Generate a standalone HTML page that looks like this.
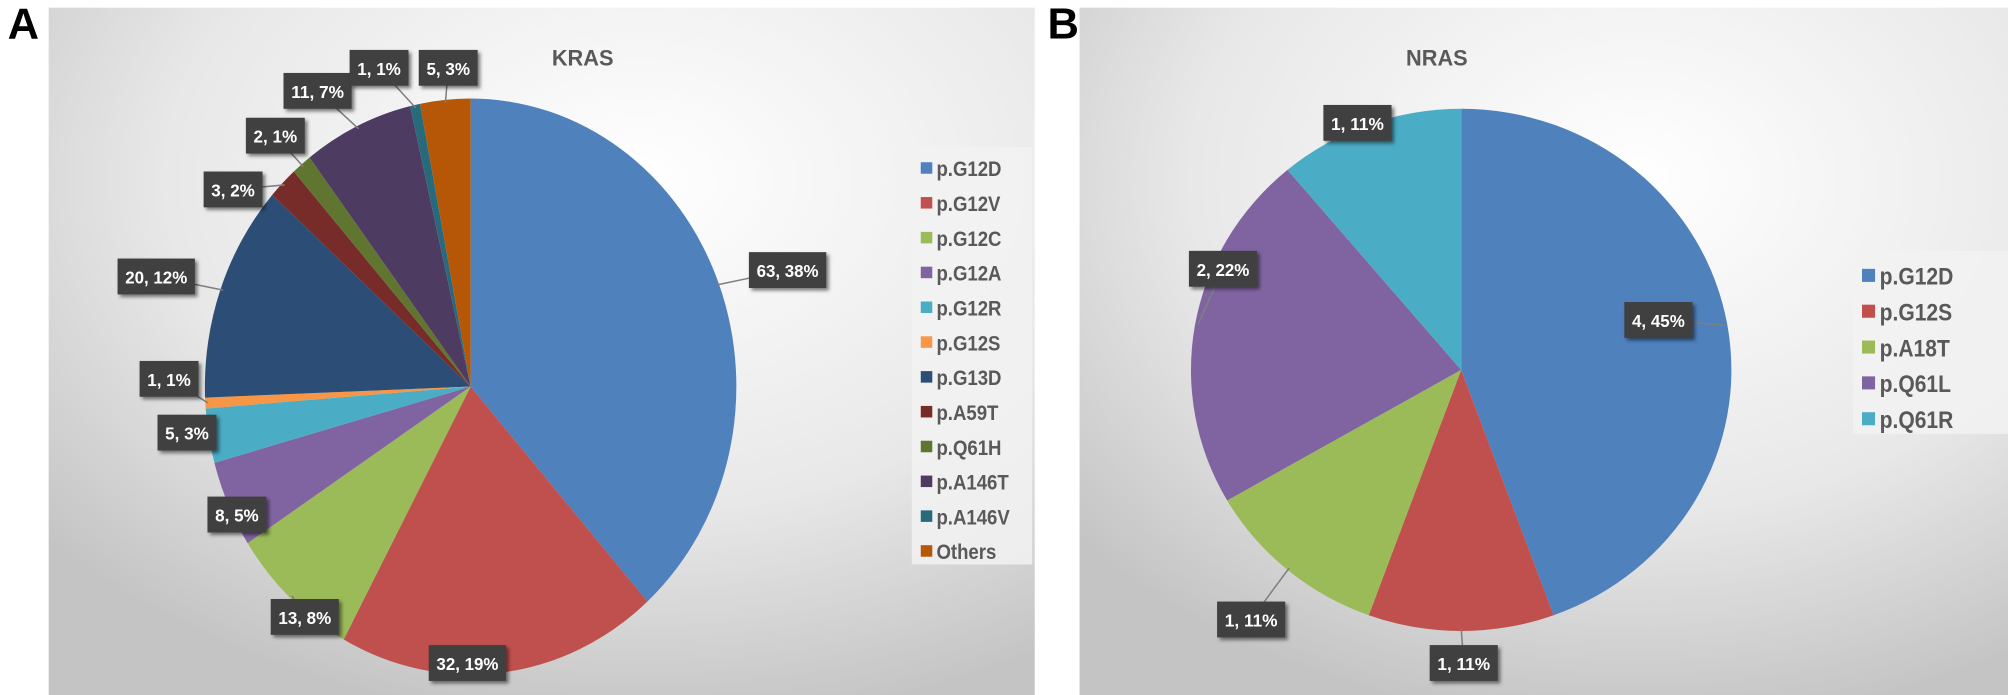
<!DOCTYPE html>
<html><head><meta charset="utf-8"><style>
html,body{margin:0;padding:0;background:#fff;width:2008px;height:695px;overflow:hidden}
svg{display:block}
text{font-family:"Liberation Sans",Arial,sans-serif}
</style></head><body>
<svg id="fig" width="2008" height="695" viewBox="0 0 1568 543" preserveAspectRatio="none" xmlns="http://www.w3.org/2000/svg">
<defs>
<radialGradient id="bgA" cx="0.6" cy="0.25" r="0.8"><stop offset="0" stop-color="#ffffff"/><stop offset="0.6" stop-color="#e8e8e8"/><stop offset="1" stop-color="#c4c4c4"/></radialGradient>
<radialGradient id="bgB" cx="0.6" cy="0.25" r="0.8"><stop offset="0" stop-color="#ffffff"/><stop offset="0.6" stop-color="#e8e8e8"/><stop offset="1" stop-color="#c4c4c4"/></radialGradient>
<filter id="sh" x="-20%" y="-20%" width="150%" height="150%"><feDropShadow dx="2" dy="2" stdDeviation="1.5" flood-color="#000" flood-opacity="0.5"/></filter>
</defs>
<rect x="38" y="6" width="770" height="537" fill="url(#bgA)"/>
<rect x="843" y="6" width="725" height="537" fill="url(#bgB)"/>
<text x="6" y="30" font-size="34" font-weight="bold" fill="#000">A</text>
<text x="818" y="30" font-size="34" font-weight="bold" fill="#000">B</text>
<text x="455" y="51" font-size="17" font-weight="bold" fill="#595959" text-anchor="middle">KRAS</text>
<text x="1122" y="51" font-size="17" font-weight="bold" fill="#595959" text-anchor="middle">NRAS</text>
<g id="pieA"></g><g id="pieB"></g>
<g id="legA"></g><g id="legB"></g>
</svg>
<script>
const krasCategories=["p.G12D","p.G12V","p.G12C","p.G12A","p.G12R","p.G12S","p.G13D","p.A59T","p.Q61H","p.A146T","p.A146V","Others"];
const krasValues=[63,32,13,8,5,1,20,3,2,11,1,5];
const krasPercentLabels=["38%","19%","8%","5%","3%","1%","12%","2%","1%","7%","1%","3%"];
const nrasCategories=["p.G12D","p.G12S","p.A18T","p.Q61L","p.Q61R"];
const nrasValues=[4,1,1,2,1];
const nrasPercentLabels=["45%","11%","11%","22%","11%"];

const krasColors=["#4f81bd","#c0504d","#9bbb59","#8064a2","#4bacc6","#f79646","#2c4d75","#772c2a","#5f7530","#4d3b62","#276a7c","#b65708"];
const nrasColors=["#4f81bd","#c0504d","#9bbb59","#8064a2","#4bacc6"];
const krasLabelPos=[[615,211],[365,518],[238,482],[185,402],[146,338],[132,296],[122,216],[182,148],[215,106],[248,71],[296,53],[350,53]];
const nrasLabelPos=[[1295,250],[1143,518],[977,484],[955,210],[1060,96]];
const NS="http://www.w3.org/2000/svg";
function mk(tag,attrs,parent){const e=document.createElementNS(NS,tag);for(const k in attrs)e.setAttribute(k,attrs[k]);parent.appendChild(e);return e;}

function drawPie(g,cx,cy,rx,ry,vals,pcts,colors,labelPos,prefix){
  const total=vals.reduce((a,b)=>a+b,0);
  const pt=(a,s)=>[cx+rx*s*Math.sin(a),cy-ry*s*Math.cos(a)];
  let a0=0;const mids=[];
  vals.forEach((v,i)=>{
    const a1=a0+v/total*2*Math.PI;
    const p0=pt(a0,1),p1=pt(a1,1);
    const large=(a1-a0)>Math.PI?1:0;
    const p=mk('path',{d:`M${cx},${cy} L${p0[0]},${p0[1]} A${rx},${ry} 0 ${large} 1 ${p1[0]},${p1[1]} Z`,fill:colors[i]},g);
    
    
    mids.push((a0+a1)/2);a0=a1;
  });
  vals.forEach((v,i)=>{
    const [lx,ly]=labelPos[i];const e=pt(mids[i],0.99);
    const ln=mk('line',{x1:lx,y1:ly,x2:e[0],y2:e[1],stroke:'#7f7f7f','stroke-width':1.2},g);
    
    
  });
  vals.forEach((v,i)=>{
    const [lx,ly]=labelPos[i];const txt=v+', '+pcts[i];
    const w=txt.length*7.2+10;
    const grp=mk('g',{},g);
    
    
    mk('rect',{x:lx-w/2,y:ly-14,width:w,height:28,fill:'#404040',filter:'url(#sh)'},grp);
    const t=mk('text',{x:lx,y:ly+5.5,'font-size':14,'font-weight':'bold',fill:'#fff','text-anchor':'middle',textLength:w-12,lengthAdjust:'spacingAndGlyphs'},grp);
    t.textContent=txt;
  });
}
function drawLegend(g,x,y,w,h,y0,step,fs,cats,colors,prefix){
  const r=mk('rect',{x:x,y:y,width:w,height:h,fill:'#f2f2f2','fill-opacity':0.85},g);
  
  
  cats.forEach((c,i)=>{
    const grp=mk('g',{},g);
    
    
    const yy=y0+i*step;
    mk('rect',{x:x+7,y:yy-fs*0.35,width:fs*0.6,height:fs*0.6,fill:colors[i]},grp);
    const tx=x+8+fs*0.75;
    const t=mk('text',{x:0,y:0,transform:`translate(${tx},${yy+fs*0.38}) scale(0.88,1)`,'font-size':fs*1.1,'font-weight':'bold',fill:'#595959'},grp);
    t.textContent=c;
  });
}
drawPie(document.getElementById('pieA'),367.5,302,207.5,225,krasValues,krasPercentLabels,krasColors,krasLabelPos,'kras');
drawPie(document.getElementById('pieB'),1141,289,211,204,nrasValues,nrasPercentLabels,nrasColors,nrasLabelPos,'nras');
drawLegend(document.getElementById('legA'),712,115,94,326,132,27.2,15,krasCategories,krasColors,'kras');
drawLegend(document.getElementById('legB'),1447,196,121,143,216,28,17,nrasCategories,nrasColors,'nras');
</script>
</body></html>
